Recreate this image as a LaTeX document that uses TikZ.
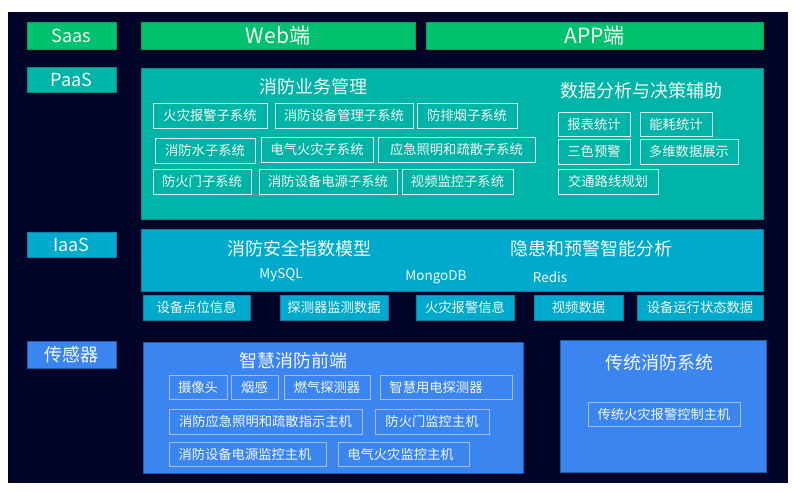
\documentclass[tikz,border=0pt]{standalone}
\usepackage{fontspec}
\setmainfont{Noto Sans CJK SC}
\definecolor{bgc}{HTML}{020528}
\definecolor{grn}{HTML}{00C16D}
\definecolor{grnb}{HTML}{0E9F5E}
\definecolor{tea}{HTML}{00B4A8}
\definecolor{teab}{HTML}{0B8A86}
\definecolor{teai}{HTML}{D6F3EE}
\definecolor{cya}{HTML}{00AACC}
\definecolor{cyab}{HTML}{0B7FA6}
\definecolor{blu}{HTML}{3B85F1}
\definecolor{blub}{HTML}{1C5DAA}
\definecolor{blui}{HTML}{AFB8EC}
\definecolor{txt}{HTML}{F6F8F2}
\newcommand\bx[7]{\node[#6, minimum width={(#4)-(#2)}, minimum height={(#5)-(#3)}] (#1) at ({((#2)+(#4))/2},{((#3)+(#5))/2}) {#7};}
\tikzset{
  base/.style={inner sep=0pt, outer sep=0pt, text=txt, line width=0.9pt, anchor=center},
  glab/.style={base, fill=grn, draw=grnb, font=\fontsize{18}{18}\selectfont},
  gtop/.style={base, fill=grn, draw=grnb, font=\fontsize{21}{21}\selectfont},
  tlab/.style={base, fill=tea, draw=teab, font=\fontsize{18}{18}\selectfont},
  tbig/.style={base, fill=tea, draw=teab},
  tsub/.style={base, draw=teai, font=\fontsize{13.3}{13.3}\selectfont},
  clab/.style={base, fill=cya, draw=cyab, font=\fontsize{18}{18}\selectfont},
  cbig/.style={base, fill=cya, draw=cyab},
  cdat/.style={base, fill=cya, draw=cyab, font=\fontsize{13.3}{13.3}\selectfont},
  blab/.style={base, fill=blu, draw=blub, font=\fontsize{18}{18}\selectfont},
  bbig/.style={base, fill=blu, draw=blub},
  bsub/.style={base, draw=blui, font=\fontsize{13.3}{13.3}\selectfont},
  ttl/.style={base, font=\fontsize{18}{18}\selectfont},
  db/.style={base, font=\fontsize{13.5}{13.5}\selectfont},
}
\begin{document}
\begin{tikzpicture}[x=1pt,y=-1pt]
\useasboundingbox (0,0) rectangle (793,493);
\fill[bgc] (8,12) rectangle (788,483);
% SaaS
\bx{saas}{27}{22}{116}{49}{glab}{Saas}
\bx{web}{141}{22}{415}{49}{gtop}{Web端}
\bx{app}{426}{22}{763}{49}{gtop}{APP端}
% PaaS
\bx{paas}{27}{67}{116}{92}{tlab}{PaaS}
\bx{paasbox}{141}{68}{763}{219}{tbig}{}
\node[ttl] (t1) at (313,87) {消防业务管理};
\bx{s1}{153}{103}{267}{128}{tsub}{火灾报警子系统}
\bx{s2}{275}{103}{413}{128}{tsub}{消防设备管理子系统}
\bx{s3}{417}{103}{517}{128}{tsub}{防排烟子系统}
\bx{s4}{155}{138}{255}{163}{tsub}{消防水子系统}
\bx{s5}{261}{137}{373}{162}{tsub}{电气火灾子系统}
\bx{s6}{378}{137}{535}{162}{tsub}{应急照明和疏散子系统}
\bx{s7}{153}{169}{251}{194}{tsub}{防火门子系统}
\bx{s8}{259}{169}{397}{194}{tsub}{消防设备电源子系统}
\bx{s9}{402}{169}{513}{194}{tsub}{视频监控子系统}
\node[ttl] (t2) at (641,91) {数据分析与决策辅助};
\bx{d1}{558}{112}{630}{136}{tsub}{报表统计}
\bx{d2}{640}{112}{712}{136}{tsub}{能耗统计}
\bx{d3}{558}{139}{630}{164}{tsub}{三色预警}
\bx{d4}{640}{139}{738}{164}{tsub}{多维数据展示}
\bx{d5}{558}{169}{658}{194}{tsub}{交通路线规划}
% IaaS
\bx{iaas}{27}{232}{116}{257}{clab}{IaaS}
\bx{iaasbox}{141}{229}{763}{291}{cbig}{}
\node[ttl] (t3) at (299,249) {消防安全指数模型};
\node[ttl] (t4) at (591,249) {隐患和预警智能分析};
\node[db] (mysql) at (281,275) {MySQL};
\node[db] (mongo) at (436,277) {MongoDB};
\node[db] (redis) at (550,277) {Redis};
\bx{i1}{143}{295}{250}{320}{cdat}{设备点位信息}
\bx{i2}{280}{295}{388}{320}{cdat}{探测器监测数据}
\bx{i3}{416}{295}{514}{320}{cdat}{火灾报警信息}
\bx{i4}{534}{295}{623}{320}{cdat}{\raisebox{1.5pt}{视频数据}}
\bx{i5}{637}{295}{763}{320}{cdat}{设备运行状态数据}
% Sensors
\bx{sens}{27}{341}{116}{368}{blab}{传感器}
\bx{front}{143}{342}{523}{473}{bbig}{}
\node[ttl] (t5) at (293,361) {智慧消防前端};
\bx{f1}{169}{375}{227}{399}{bsub}{摄像头}
\bx{f2}{231}{375}{278}{399}{bsub}{烟感}
\bx{f3}{284}{375}{370}{399}{bsub}{燃气探测器}
\bx{f4}{380}{375}{512}{399}{bsub}{智慧用电探测器\kern20pt}
\bx{f5}{169}{409}{362}{434}{bsub}{消防应急照明和疏散指示主机}
\bx{f6}{375}{409}{489}{434}{bsub}{防火门监控主机}
\bx{f7}{169}{442}{326}{466}{bsub}{消防设备电源监控主机\kern5pt}
\bx{f8}{338}{442}{469}{466}{bsub}{电气火灾监控主机\kern6pt}
\bx{trad}{560}{340}{766}{472}{bbig}{}
\node[ttl] (t6) at (659,363) {传统消防系统};
\bx{g1}{588}{402}{740}{426}{bsub}{传统火灾报警控制主机}
\end{tikzpicture}
\end{document}
